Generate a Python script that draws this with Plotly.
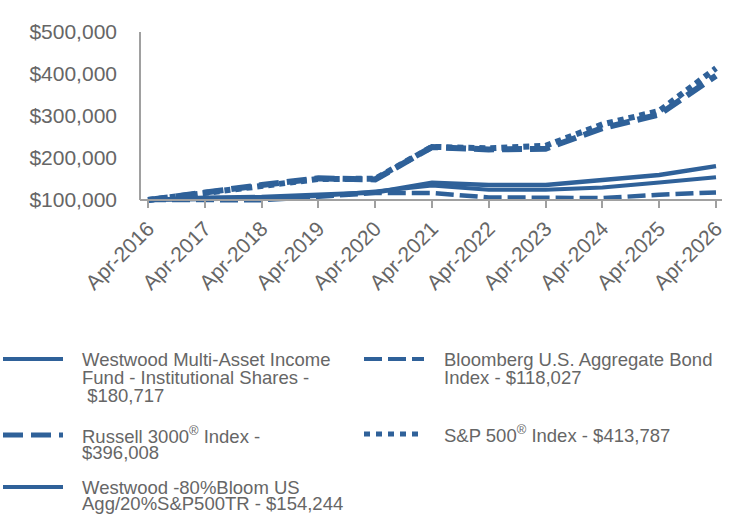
import plotly.graph_objects as go

# ---- data ----
periods = ["Apr-2016", "Apr-2017", "Apr-2018", "Apr-2019", "Apr-2020", "Apr-2021",
           "Apr-2022", "Apr-2023", "Apr-2024", "Apr-2025", "Apr-2026"]
fund = [100000, 105500, 107000, 112000, 118000, 141000, 135500, 135500, 146500, 159500, 180717]
bloomberg = [100000, 100300, 99500, 108000, 116500, 116500, 106000, 105500, 104500, 112500, 118027]
russell = [100000, 118500, 135500, 151500, 149000, 226000, 220500, 222000, 271000, 303500, 396008]
sp500 = [100000, 117000, 133500, 150000, 150500, 226500, 223000, 229000, 280000, 312000, 413787]
blend = [100000, 102500, 103500, 109500, 120500, 134500, 124500, 124500, 129500, 141500, 154244]
y_ticks = [100000, 200000, 300000, 400000, 500000]

COLOR = "#2F6199"
TEXT = "#666666"
AXIS = "#A0A0A0"
FONT = "Arial, Liberation Sans, sans-serif"

W, H = 744, 516
L, R, T, B = 140, 22, 32, 310
PW, PH = W - L - R, H - T - B
x_idx = list(range(len(periods)))

fig = go.Figure()
series = [
    (fund, dict(width=4.5, dash="solid")),
    (bloomberg, dict(width=4.5, dash="18px,6px")),
    (russell, dict(width=6, dash="20px,8px")),
    (sp500, dict(width=6, dash="6px,5px")),
    (blend, dict(width=4, dash="solid")),
]
for vals, ln in series:
    fig.add_trace(go.Scatter(x=x_idx, y=vals, mode="lines",
                             line=dict(color=COLOR, **ln), showlegend=False,
                             hoverinfo="skip"))

# y range extends a bit below 100k so lines at the base are not clipped
ymin = 100000 - 6 / 42 * 100000
ymax = 500000
x0 = -8 / 56.8
x1 = 10 + 6 / 56.8

def px_x(px):
    return (px - L) / PW

def px_y(py):
    return (H - B - py) / PH

fig.update_layout(
    width=W, height=H,
    margin=dict(l=L, r=R, t=T, b=B, pad=0),
    paper_bgcolor="white", plot_bgcolor="white",
    font=dict(family=FONT, color=TEXT),
    xaxis=dict(range=[x0, x1], tickmode="array", tickvals=x_idx, ticktext=periods,
               tickangle=-45, tickfont=dict(size=21, color=TEXT, family=FONT),
               showgrid=False, zeroline=False, showline=True, linecolor=AXIS, linewidth=2,
               ticks="outside", ticklen=7, tickwidth=2, tickcolor=AXIS,
               anchor="free", position=(100000 - ymin) / (ymax - ymin)),
    yaxis=dict(range=[ymin, ymax], tickmode="array", tickvals=y_ticks,
               tickformat="$,.0f", tickfont=dict(size=21, color=TEXT, family=FONT),
               showgrid=False, zeroline=False, showline=False, ticks="",
               ticklabelstandoff=22),
)

# y axis line from 100k to 500k
fig.add_shape(type="line", xref="paper", yref="y", x0=0, x1=0, y0=100000, y1=500000,
              line=dict(color=AXIS, width=2))

# ---- manual legend ----
legend_items = [
    (3, 63, 359, dict(width=4, dash="solid"), 81,
     [("Westwood Multi-Asset Income", 359), ("Fund - Institutional Shares -", 377), (" $180,717", 395)]),
    (364, 424, 359, dict(width=4, dash="18px,6px"), 443,
     [("Bloomberg U.S. Aggregate Bond", 359), ("Index - $118,027", 377)]),
    (3, 63, 435, dict(width=5, dash="20px,8px"), 81,
     [("Russell 3000<sup>®</sup> Index -", 435), ("$396,008", 452)]),
    (364, 424, 434, dict(width=5, dash="6px,6px"), 443,
     [("S&P 500<sup>®</sup> Index - $413,787", 434)]),
    (3, 63, 487, dict(width=4, dash="solid"), 81,
     [("Westwood -80%Bloom US", 487), ("Agg/20%S&P500TR - $154,244", 504)]),
]
for xs0, xs1, ys, ln, tx, lines in legend_items:
    fig.add_shape(type="line", xref="paper", yref="paper",
                  x0=px_x(xs0), x1=px_x(xs1), y0=px_y(ys), y1=px_y(ys),
                  line=dict(color=COLOR, **ln))
    for txt, ty in lines:
        fig.add_annotation(xref="paper", yref="paper", x=px_x(tx), y=px_y(ty),
                           xanchor="left", yanchor="middle", showarrow=False,
                           text=txt, font=dict(size=18.5, color=TEXT, family=FONT),
                           borderpad=0)

fig.write_html("out.html")
